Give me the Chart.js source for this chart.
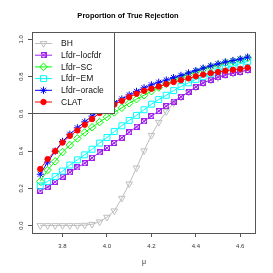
<!DOCTYPE html>
<html>
<head>
<meta charset="utf-8">
<script src="https://cdn.jsdelivr.net/npm/chart.js@4.4.1/dist/chart.umd.min.js"></script>
<style>
  html, body { margin: 0; padding: 0; background: #fff; }
  #wrap { width: 273px; height: 273px; }
</style>
</head>
<body>
<div id="wrap"><canvas id="chart" width="273" height="273"></canvas></div>
<script>
// mu values (x axis)
const mu = [3.700, 3.733, 3.767, 3.800, 3.833, 3.867, 3.900, 3.933, 3.967, 4.000,
            4.033, 4.067, 4.100, 4.133, 4.167, 4.200, 4.233, 4.267, 4.300, 4.333,
            4.367, 4.400, 4.433, 4.467, 4.500, 4.533, 4.567, 4.600, 4.633];

// proportion of true rejection per method
const bh =          [0, 0, 0, 0, 0, 0, 0.002, 0.007, 0.020, 0.045,
                     0.079, 0.147, 0.224, 0.310, 0.402, 0.485, 0.555, 0.612, 0.658, 0.690,
                     0.716, 0.743, 0.765, 0.781, 0.795, 0.808, 0.817, 0.824, 0.834];
const lfdrLocfdr =  [0.187, 0.206, 0.235, 0.262, 0.286, 0.312, 0.335, 0.364, 0.393, 0.418,
                     0.444, 0.472, 0.501, 0.531, 0.560, 0.588, 0.615, 0.642, 0.666, 0.692,
                     0.718, 0.745, 0.767, 0.783, 0.797, 0.810, 0.819, 0.826, 0.836];
const lfdrSC =      [0.237, 0.298, 0.345, 0.395, 0.432, 0.468, 0.500, 0.528, 0.556, 0.583,
                     0.608, 0.633, 0.657, 0.679, 0.700, 0.722, 0.742, 0.762, 0.780, 0.796,
                     0.812, 0.826, 0.840, 0.853, 0.864, 0.875, 0.883, 0.891, 0.900];
const lfdrEM =      [0.213, 0.237, 0.263, 0.293, 0.325, 0.353, 0.380, 0.410, 0.443, 0.473,
                     0.505, 0.536, 0.565, 0.592, 0.622, 0.652, 0.677, 0.700, 0.725, 0.747,
                     0.767, 0.785, 0.800, 0.815, 0.830, 0.845, 0.858, 0.870, 0.882];
const lfdrOracle =  [0.276, 0.341, 0.400, 0.452, 0.491, 0.525, 0.557, 0.588, 0.615, 0.638,
                     0.660, 0.680, 0.702, 0.721, 0.740, 0.756, 0.770, 0.782, 0.795, 0.807,
                     0.820, 0.833, 0.846, 0.858, 0.869, 0.879, 0.887, 0.895, 0.905];
const clat =        [0.304, 0.357, 0.400, 0.446, 0.482, 0.511, 0.542, 0.572, 0.605, 0.628,
                     0.650, 0.670, 0.690, 0.708, 0.724, 0.735, 0.747, 0.760, 0.771, 0.781,
                     0.791, 0.802, 0.811, 0.819, 0.825, 0.832, 0.837, 0.842, 0.849];

const seriesNames = ['BH', 'Lfdr\u2212locfdr', 'Lfdr\u2212SC', 'Lfdr\u2212EM', 'Lfdr\u2212oracle', 'CLAT'];
const xTicks = [3.8, 4.0, 4.2, 4.4, 4.6];
const yTicks = [0, 0.2, 0.4, 0.6, 0.8, 1.0];

const FONT = "'Liberation Sans', Arial, Helvetica, sans-serif";

// square with an X inside (R pch 7)
function makeBoxX(color) {
    const c = document.createElement('canvas');
    c.width = 6; c.height = 6;
    const g = c.getContext('2d');
    g.strokeStyle = color;
    g.lineWidth = 1;
    g.strokeRect(0.5, 0.5, 5, 5);
    g.beginPath();
    g.moveTo(0.5, 0.5); g.lineTo(5.5, 5.5);
    g.moveTo(5.5, 0.5); g.lineTo(0.5, 5.5);
    g.stroke();
    return c;
}

const styles = [
    { color: '#BEBEBE', pointStyle: 'triangle', rotation: 180, radius: 3.8, fill: 'rgba(0,0,0,0)' },
    { color: '#A020F0', pointStyle: makeBoxX('#A020F0'), rotation: 0, radius: 3, fill: 'rgba(0,0,0,0)' },
    { color: '#00FF00', pointStyle: 'rectRot', rotation: 0, radius: 3.8, fill: 'rgba(0,0,0,0)' },
    { color: '#00FFFF', pointStyle: 'rect', rotation: 0, radius: 4.2, fill: 'rgba(0,0,0,0)' },
    { color: '#0000FF', pointStyle: 'star', rotation: 0, radius: 3.6, fill: 'rgba(0,0,0,0)' },
    { color: '#FF0000', pointStyle: 'circle', rotation: 0, radius: 2.7, fill: '#FF0000' }
];

const allSeries = [bh, lfdrLocfdr, lfdrSC, lfdrEM, lfdrOracle, clat];

const datasets = allSeries.map((vals, i) => ({
    label: seriesNames[i],
    data: vals.map((v, j) => ({ x: mu[j], y: v })),
    borderColor: styles[i].color,
    backgroundColor: styles[i].fill,
    borderWidth: 1,
    pointStyle: styles[i].pointStyle,
    pointRotation: styles[i].rotation,
    pointRadius: styles[i].radius,
    pointBorderColor: styles[i].color,
    pointBackgroundColor: styles[i].fill,
    pointBorderWidth: 1,
    tension: 0,
    fill: false,
    order: allSeries.length - i   // later series drawn on top, like R
}));

// box around the plot region
const framePlugin = {
    id: 'frame',
    afterDraw(chart) {
        const a = chart.chartArea;
        const ctx = chart.ctx;
        ctx.save();
        ctx.strokeStyle = '#555';
        ctx.lineWidth = 1;
        ctx.strokeRect(Math.round(a.left) + 0.5, Math.round(a.top) + 0.5,
                       Math.round(a.right - a.left) - 1, Math.round(a.bottom - a.top));
        ctx.restore();
    }
};

// R style legend in the top-left corner of the plot
const legendPlugin = {
    id: 'rlegend',
    afterDraw(chart) {
        const a = chart.chartArea;
        const ctx = chart.ctx;
        const left = Math.round(a.left) + 0.5, top = Math.round(a.top) + 0.5;
        const w = 82, h = 81;
        ctx.save();
        ctx.fillStyle = '#fff';
        ctx.fillRect(left, top, w, h);
        ctx.strokeStyle = '#555';
        ctx.lineWidth = 1;
        ctx.strokeRect(left, top, w, h);
        ctx.font = '8.5px ' + FONT;
        ctx.textBaseline = 'middle';
        ctx.textAlign = 'left';
        seriesNames.forEach((name, i) => {
            const y = a.top + 11.5 + i * 11.7;
            const st = styles[i];
            ctx.strokeStyle = st.color;
            ctx.lineWidth = 1;
            ctx.beginPath();
            ctx.moveTo(a.left + 3, y);
            ctx.lineTo(a.left + 20, y);
            ctx.stroke();
            ctx.fillStyle = st.fill;
            Chart.helpers.drawPoint(ctx, {
                pointStyle: st.pointStyle, rotation: st.rotation,
                radius: st.radius, borderWidth: 1
            }, a.left + 11.5, y);
            ctx.fillStyle = '#111';
            ctx.fillText(name, a.left + 29, y + 0.5);
        });
        ctx.restore();
    }
};

const ctx = document.getElementById('chart').getContext('2d');
const chart = new Chart(ctx, {
    type: 'line',
    data: { datasets: datasets },
    options: {
        responsive: false,
        animation: false,
        layout: { padding: { left: 0, right: 17, top: 0, bottom: 0 } },
        plugins: {
            legend: { display: false },
            tooltip: { enabled: false },
            title: {
                display: true,
                text: 'Proportion of True Rejection',
                color: '#000',
                font: { family: FONT, size: 7.5, weight: 'bold' },
                padding: { top: 11, bottom: 12 }
            }
        },
        scales: {
            x: {
                type: 'linear',
                min: 3.6627,
                max: 4.6707,
                afterBuildTicks: s => { s.ticks = xTicks.map(v => ({ value: v })); },
                afterFit: s => { s.height = 40; },
                border: { display: false },
                grid: { drawOnChartArea: false, drawTicks: true, tickLength: 4, color: '#555' },
                ticks: {
                    color: '#333', padding: 5.5, maxRotation: 0,
                    font: { family: FONT, size: 6 },
                    callback: v => Number(v).toFixed(1)
                },
                title: {
                    display: true, text: '\u03bc', color: '#333',
                    font: { family: FONT, size: 7 },
                    padding: { top: 0, bottom: 7 }
                }
            },
            y: {
                min: -0.04,
                max: 1.04,
                afterBuildTicks: s => { s.ticks = yTicks.map(v => ({ value: v })); },
                afterFit: s => { s.width = 32; },
                border: { display: false },
                grid: { drawOnChartArea: false, drawTicks: true, tickLength: 4, color: '#555' },
                ticks: {
                    color: '#333', padding: 2.5, minRotation: 90, maxRotation: 90,
                    crossAlign: 'center',
                    font: { family: FONT, size: 6 },
                    callback: v => Number(v).toFixed(1)
                }
            }
        }
    },
    plugins: [framePlugin, legendPlugin]
});
</script>
</body>
</html>
